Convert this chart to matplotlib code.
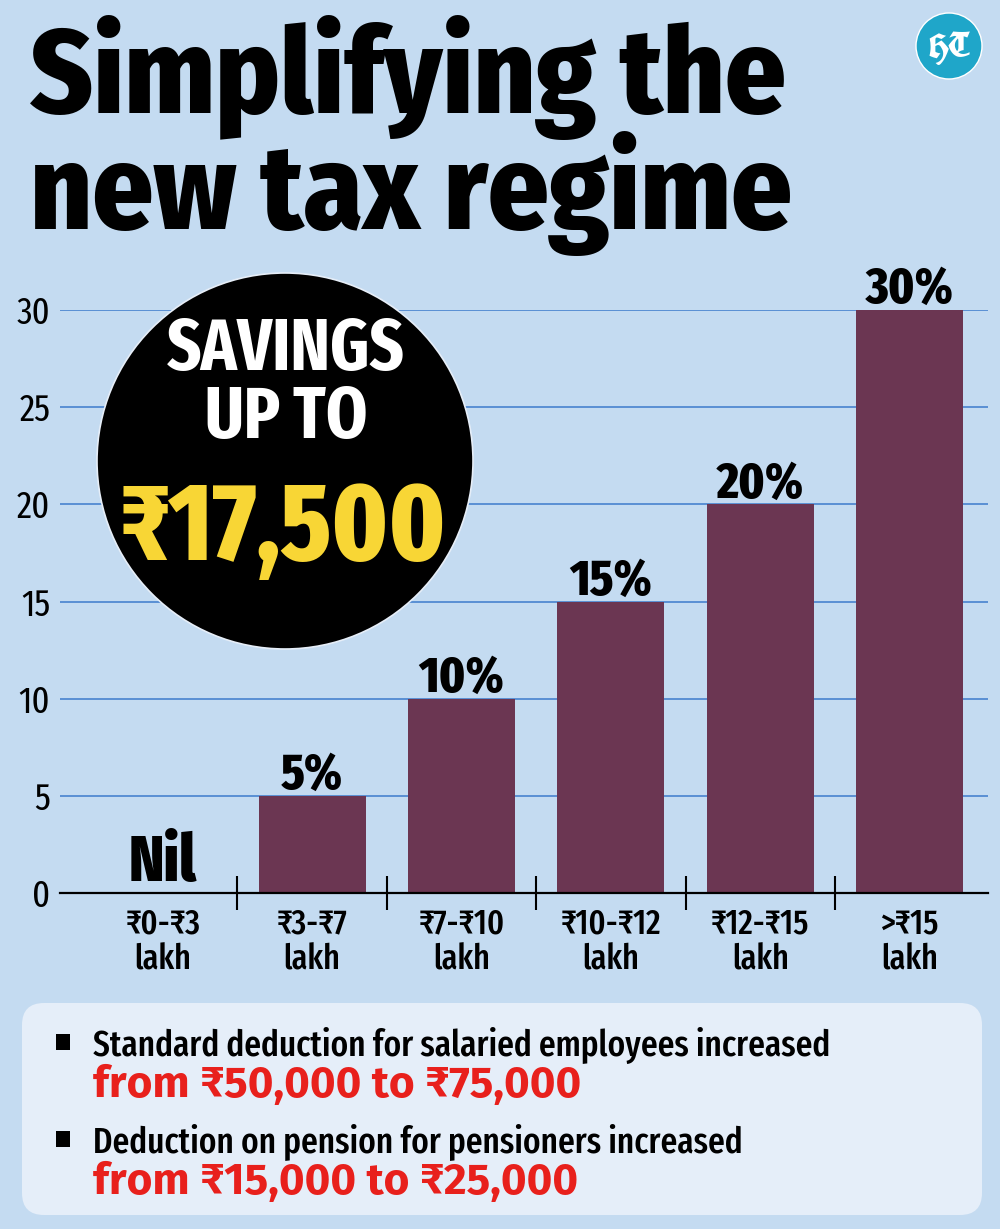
import matplotlib
matplotlib.use('Agg')
import matplotlib.pyplot as plt
from matplotlib.patches import Circle, FancyBboxPatch, Rectangle
from matplotlib.ticker import FixedLocator

# ---- data ----
brackets = ['₹0-₹3\nlakh', '₹3-₹7\nlakh', '₹7-₹10\nlakh',
            '₹10-₹12\nlakh', '₹12-₹15\nlakh', '>₹15\nlakh']
rates = [0, 5, 10, 15, 20, 30]
rate_labels = ['Nil', '5%', '10%', '15%', '20%', '30%']
yticks = [0, 5, 10, 15, 20, 25, 30]

title_lines = ['Simplifying the', 'new tax regime']
badge_lines = ['SAVINGS', 'UP TO', '₹17,500']
notes = [('Standard deduction for salaried employees increased', 'from ₹50,000 to ₹75,000'),
         ('Deduction on pension for pensioners increased', 'from ₹15,000 to ₹25,000')]

# ---- style ----
BG = '#c4dbf1'
BAR = '#6b3652'
GRID = '#5a8fd4'
YELLOW = '#f8d635'
RED = '#e8201c'
PANEL = '#e5eef9'
HTBLUE = '#1fa6c9'

EXT = ['Fira Sans Extra Condensed', 'Roboto Condensed', 'DejaVu Sans']
COND = ['Fira Sans Condensed', 'Roboto Condensed', 'DejaVu Sans']
WIDE = ['Fira Sans', 'Roboto', 'DejaVu Sans']
plt.rcParams['font.family'] = EXT

W, H = 1000, 1229
fig = plt.figure(figsize=(W / 100, H / 100), dpi=100, facecolor=BG)

# chart axes (pixel box: x 60..988, y 310..893)
ax = fig.add_axes([60 / W, 1 - 893 / H, 928 / W, 583 / H], zorder=1)
ax.set_facecolor('none')
x = list(range(len(rates)))
ax.bar(x, rates, width=0.716, color=BAR, zorder=3)
ax.set_xlim(-0.687, 5.524)
ax.set_ylim(0, 30)

ax.set_yticks(yticks)
ax.yaxis.grid(True, color=GRID, lw=1.4)
ax.set_axisbelow(True)
ax.tick_params(axis='y', length=0, pad=7, labelsize=27)

ax.set_xticks(x)
ax.set_xticklabels(brackets, fontsize=25, linespacing=1.12, weight='medium')
ax.xaxis.set_minor_locator(FixedLocator([i + 0.5 for i in x[:-1]]))
ax.tick_params(axis='x', which='major', length=0, pad=10)
ax.tick_params(axis='x', which='minor', direction='inout', length=25, width=1.5, color='black')

for s in ['top', 'right', 'left']:
    ax.spines[s].set_visible(False)
ax.spines['bottom'].set_linewidth(1.6)
ax.spines['bottom'].set_zorder(4)

for xi, r, lab in zip(x, rates, rate_labels):
    if r == 0:
        ax.annotate(lab, (xi, r), xytext=(0, 9), textcoords='offset points',
                    ha='center', va='baseline', fontsize=47, weight='heavy')
    else:
        ax.annotate(lab, (xi, r), xytext=(0, 5), textcoords='offset points',
                    ha='center', va='baseline', fontsize=37, weight='heavy')

# overlay in figure pixels for the decorations
ov = fig.add_axes([0, 0, 1, 1], zorder=2)
ov.set_xlim(0, W)
ov.set_ylim(H, 0)
ov.axis('off')

# title
ov.text(30, 113, title_lines[0], fontsize=86, weight='heavy', family=COND, va='baseline', ha='left')
ov.text(30, 229, title_lines[1], fontsize=86, weight='heavy', family=COND, va='baseline', ha='left')

# HT logo
ov.add_patch(Circle((949, 46), 33, fc=HTBLUE, ec='white', lw=1))
ov.text(949, 58, 'HT', color='white', fontsize=24, weight='bold', style='italic',
        family=['UnifrakturCook', 'DejaVu Serif'], ha='center', va='baseline')

# savings badge
ov.add_patch(Circle((285, 461), 188, fc='black', ec='#e6eef8', lw=1.2))
ov.text(286, 370, badge_lines[0], color='white', fontsize=52, weight='bold', ha='center', va='baseline')
ov.text(286, 438, badge_lines[1], color='white', fontsize=52, weight='bold', ha='center', va='baseline')
ov.text(283, 560, badge_lines[2], color=YELLOW, fontsize=79, weight='heavy', ha='center', va='baseline')

# notes panel
ov.add_patch(FancyBboxPatch((22, 1003), 960, 212, boxstyle='round,pad=0,rounding_size=22',
                            fc=PANEL, ec='none'))
for k, (black, red) in enumerate(notes):
    y0 = 1055 + k * 97
    ov.add_patch(Rectangle((56, y0 - 21), 14, 16, fc='black', ec='none'))
    ov.text(93, y0, black, fontsize=26, weight='medium', va='baseline', ha='left')
    ov.text(93, y0 + 42, red, fontsize=31.8, color=RED, weight='bold', family=WIDE,
            va='baseline', ha='left')

fig.savefig('out.png', dpi=100, facecolor=BG)
